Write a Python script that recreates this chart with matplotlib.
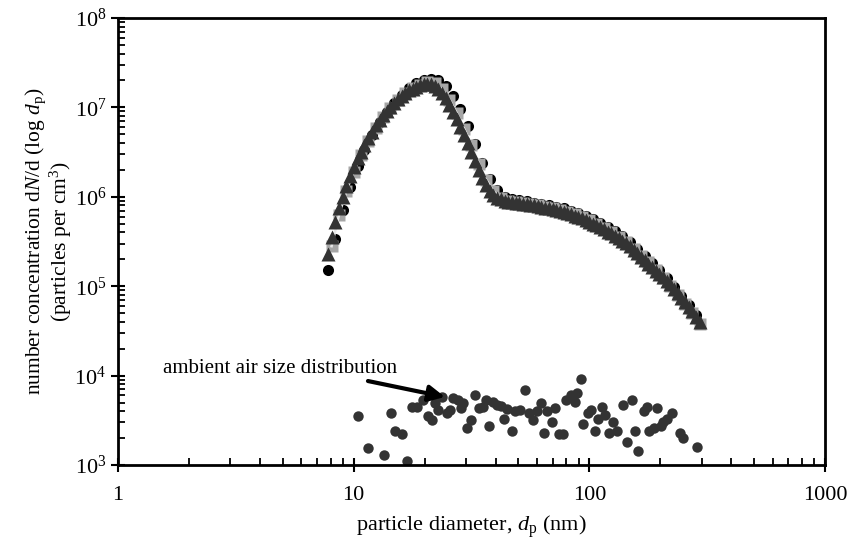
import matplotlib
matplotlib.use("Agg")
import matplotlib.pyplot as plt

plt.rcParams['font.family'] = ['Liberation Serif', 'DejaVu Serif']
plt.rcParams['mathtext.fontset'] = 'custom'
plt.rcParams['mathtext.rm'] = 'Liberation Serif'
plt.rcParams['mathtext.it'] = 'Liberation Serif:italic'
plt.rcParams['mathtext.default'] = 'regular'

# SMPS channel diameters (nm)
diam = [7.77, 8.06, 8.35, 8.66, 8.97, 9.30, 9.65, 10.0, 10.4, 10.7,
        11.1, 11.5, 12.0, 12.4, 12.9, 13.3, 13.8, 14.3, 14.9, 15.4,
        16.0, 16.5, 17.2, 17.8, 18.4, 19.1, 19.8, 20.5, 21.3, 22.1,
        22.9, 23.7, 24.6, 25.5, 26.4, 27.4, 28.4, 29.4, 30.5, 31.6,
        32.8, 34.0, 35.2, 36.5, 37.9, 39.2, 40.7, 42.2, 43.7, 45.3,
        47.0, 48.7, 50.5, 52.3, 54.2, 56.2, 58.3, 60.4, 62.6, 64.9,
        67.3, 69.8, 72.3, 75.0, 77.7, 80.6, 83.5, 86.6, 89.8, 93.1,
        96.5, 100, 104, 107, 111, 115, 120, 124, 129, 133,
        138, 143, 149, 154, 160, 166, 172, 178, 185, 191,
        198, 205, 213, 221, 229, 237, 246, 255, 264, 274,
        284, 294]

# triangles (dark grey)
n_tri = [2.29e5, 3.55e5, 5.25e5, 7.41e5, 1.00e6, 1.32e6, 1.70e6, 2.14e6, 2.69e6, 3.16e6,
         3.80e6, 4.57e6, 5.37e6, 6.31e6, 7.24e6, 8.13e6, 9.12e6, 1.02e7, 1.12e7, 1.23e7,
         1.35e7, 1.45e7, 1.55e7, 1.62e7, 1.70e7, 1.78e7, 1.82e7, 1.84e7, 1.82e7, 1.74e7,
         1.62e7, 1.45e7, 1.26e7, 1.07e7, 8.91e6, 7.41e6, 6.03e6, 4.90e6, 3.98e6, 3.16e6,
         2.51e6, 2.00e6, 1.62e6, 1.35e6, 1.17e6, 1.05e6, 9.77e5, 9.33e5, 9.02e5, 8.81e5,
         8.71e5, 8.61e5, 8.51e5, 8.41e5, 8.32e5, 8.13e5, 8.04e5, 7.94e5, 7.76e5, 7.59e5,
         7.41e5, 7.33e5, 7.16e5, 7.00e5, 6.84e5, 6.61e5, 6.38e5, 6.17e5, 5.96e5, 5.75e5,
         5.50e5, 5.25e5, 5.01e5, 4.79e5, 4.57e5, 4.37e5, 4.07e5, 3.89e5, 3.63e5, 3.43e5,
         3.24e5, 3.02e5, 2.79e5, 2.57e5, 2.34e5, 2.14e5, 1.95e5, 1.78e5, 1.62e5, 1.48e5,
         1.38e5, 1.26e5, 1.15e5, 1.05e5, 9.33e4, 8.32e4, 7.41e4, 6.61e4, 5.89e4, 5.25e4,
         4.57e4, 3.98e4]

# circles (black), on every other channel starting at 7.77 nm
n_circ = [1.5e5, 3.4e5, 7.2e5, 1.3e6, 2.2e6, 3.3e6, 4.9e6, 6.8e6, 8.9e6, 1.12e7,
          1.38e7, 1.65e7, 1.85e7, 2.02e7, 2.1e7, 2.0e7, 1.75e7, 1.35e7, 9.5e6, 6.2e6,
          3.9e6, 2.4e6, 1.6e6, 1.2e6, 1.0e6, 9.4e5, 9.1e5, 8.9e5, 8.6e5, 8.3e5,
          8.0e5, 7.7e5, 7.4e5, 7.0e5, 6.6e5, 6.1e5, 5.6e5, 5.1e5, 4.6e5, 4.1e5,
          3.6e5, 3.1e5, 2.6e5, 2.2e5, 1.8e5, 1.5e5, 1.22e5, 9.8e4, 7.8e4, 6.2e4,
          4.8e4]

# squares (light grey), on every other channel starting at 8.06 nm
n_sq = [2.8e5, 6.2e5, 1.15e6, 1.9e6, 2.92e6, 4.2e6, 5.9e6, 7.8e6, 9.9e6, 1.2e7,
        1.43e7, 1.63e7, 1.8e7, 1.9e7, 1.85e7, 1.6e7, 1.22e7, 8.6e6, 5.8e6, 3.8e6,
        2.35e6, 1.55e6, 1.15e6, 9.7e5, 9.0e5, 8.7e5, 8.5e5, 8.3e5, 8.05e5, 7.75e5,
        7.45e5, 7.15e5, 6.8e5, 6.4e5, 5.95e5, 5.45e5, 4.95e5, 4.5e5, 4.0e5, 3.55e5,
        3.1e5, 2.6e5, 2.2e5, 1.85e5, 1.52e5, 1.25e5, 1.0e5, 8.0e4, 6.3e4, 5.0e4,
        3.8e4]

# ambient air size distribution
amb_d = [10.4, 11.5, 13.4, 14.4, 15.0, 16.0, 16.8, 17.6, 18.5, 19.7,
         20.7, 21.4, 22.1, 22.8, 23.6, 24.8, 25.6, 26.5, 27.8, 28.5,
         29.2, 30.3, 31.4, 32.7, 34.1, 35.5, 36.4, 37.6, 38.9, 40.4,
         42.1, 43.4, 44.9, 46.8, 48.3, 50.8, 53.3, 55.6, 57.8, 59.7,
         62.1, 64.1, 66.2, 69.2, 71.5, 74.5, 77.5, 79.6, 83.3, 86.9,
         88.3, 91.8, 94.2, 98.9, 102, 106, 109, 113, 116, 121,
         126, 131, 139, 145, 151, 156, 161, 171, 175, 180,
         188, 194, 201, 206, 213, 224, 242, 250, 285]
amb_n = [3.5e3, 1.55e3, 1.3e3, 3.8e3, 2.4e3, 2.2e3, 1.1e3, 4.4e3, 4.5e3, 5.4e3,
         3.5e3, 3.2e3, 4.9e3, 4.1e3, 5.7e3, 3.8e3, 4.1e3, 5.6e3, 5.4e3, 4.3e3,
         5.0e3, 2.6e3, 3.2e3, 6.0e3, 4.3e3, 4.5e3, 5.4e3, 2.7e3, 5.1e3, 4.7e3,
         4.6e3, 3.3e3, 4.2e3, 2.4e3, 4.0e3, 4.1e3, 6.9e3, 3.8e3, 3.2e3, 4.0e3,
         5.0e3, 2.3e3, 4.0e3, 3.0e3, 4.3e3, 2.2e3, 2.2e3, 5.4e3, 6.0e3, 5.1e3,
         6.4e3, 9.1e3, 2.9e3, 3.8e3, 4.1e3, 2.4e3, 3.3e3, 4.5e3, 3.6e3, 2.3e3,
         3.0e3, 2.4e3, 4.7e3, 1.8e3, 5.4e3, 2.4e3, 1.45e3, 4.0e3, 4.5e3, 2.4e3,
         2.6e3, 4.3e3, 2.7e3, 3.0e3, 3.3e3, 3.8e3, 2.3e3, 2.0e3, 1.6e3]

xticks = [1, 10, 100, 1000]
xticklabels = ['1', '10', '100', '1000']
yticks = [1e3, 1e4, 1e5, 1e6, 1e7, 1e8]
yticklabels = ['$10^{3}$', '$10^{4}$', '$10^{5}$', '$10^{6}$', '$10^{7}$', '$10^{8}$']

fig = plt.figure(figsize=(8.52, 5.43), dpi=100)
ax = fig.add_axes([0.1385, 0.1436, 0.8298, 0.8233])

ax.plot(diam[0::2], n_circ, 'o', color='black', ms=8, mec='none')
ax.plot(diam[1::2], n_sq, 's', color='#a6a6a6', ms=8, mec='none')
ax.plot(diam[1::2], n_sq, '-', color='#e8e8e8', lw=1.8)
ax.plot(diam, n_tri, '^', color='#333333', ms=10, mec='none')

ax.plot(amb_d, amb_n, 'o', color='#333333', ms=7.5, mec='none')

ax.text(1.55, 1.19e4, 'ambient air size distribution', fontsize=15, va='center', ha='left')
ax.annotate('', xy=(24.4, 5.77e3), xytext=(11.5, 8.7e3),
            arrowprops=dict(arrowstyle='-|>', color='black', lw=3, mutation_scale=24,
                            shrinkA=0, shrinkB=0))

ax.set_xscale('log')
ax.set_yscale('log')
ax.set_xlim(1, 1000)
ax.set_ylim(1e3, 1e8)
ax.set_xticks(xticks, labels=xticklabels)
ax.set_yticks(yticks, labels=yticklabels)

for s in ax.spines.values():
    s.set_linewidth(2)
ax.tick_params(which='major', direction='inout', length=10, width=1.5, labelsize=16)
ax.tick_params(which='minor', direction='in', length=5, width=1.3)
ax.tick_params(axis='x', pad=10)

ax.set_xlabel('particle diameter, $\\mathit{d}_\\mathrm{p}$ (nm)', fontsize=16, labelpad=6)
ax.set_ylabel('number concentration d$\\mathit{N}$/d (log $\\mathit{d}_\\mathrm{p}$)\n(particles per cm$^3$)',
              fontsize=15.5, linespacing=1.0)
ax.yaxis.set_label_coords(-0.062, 0.5)

fig.savefig('out.png', dpi=100)
